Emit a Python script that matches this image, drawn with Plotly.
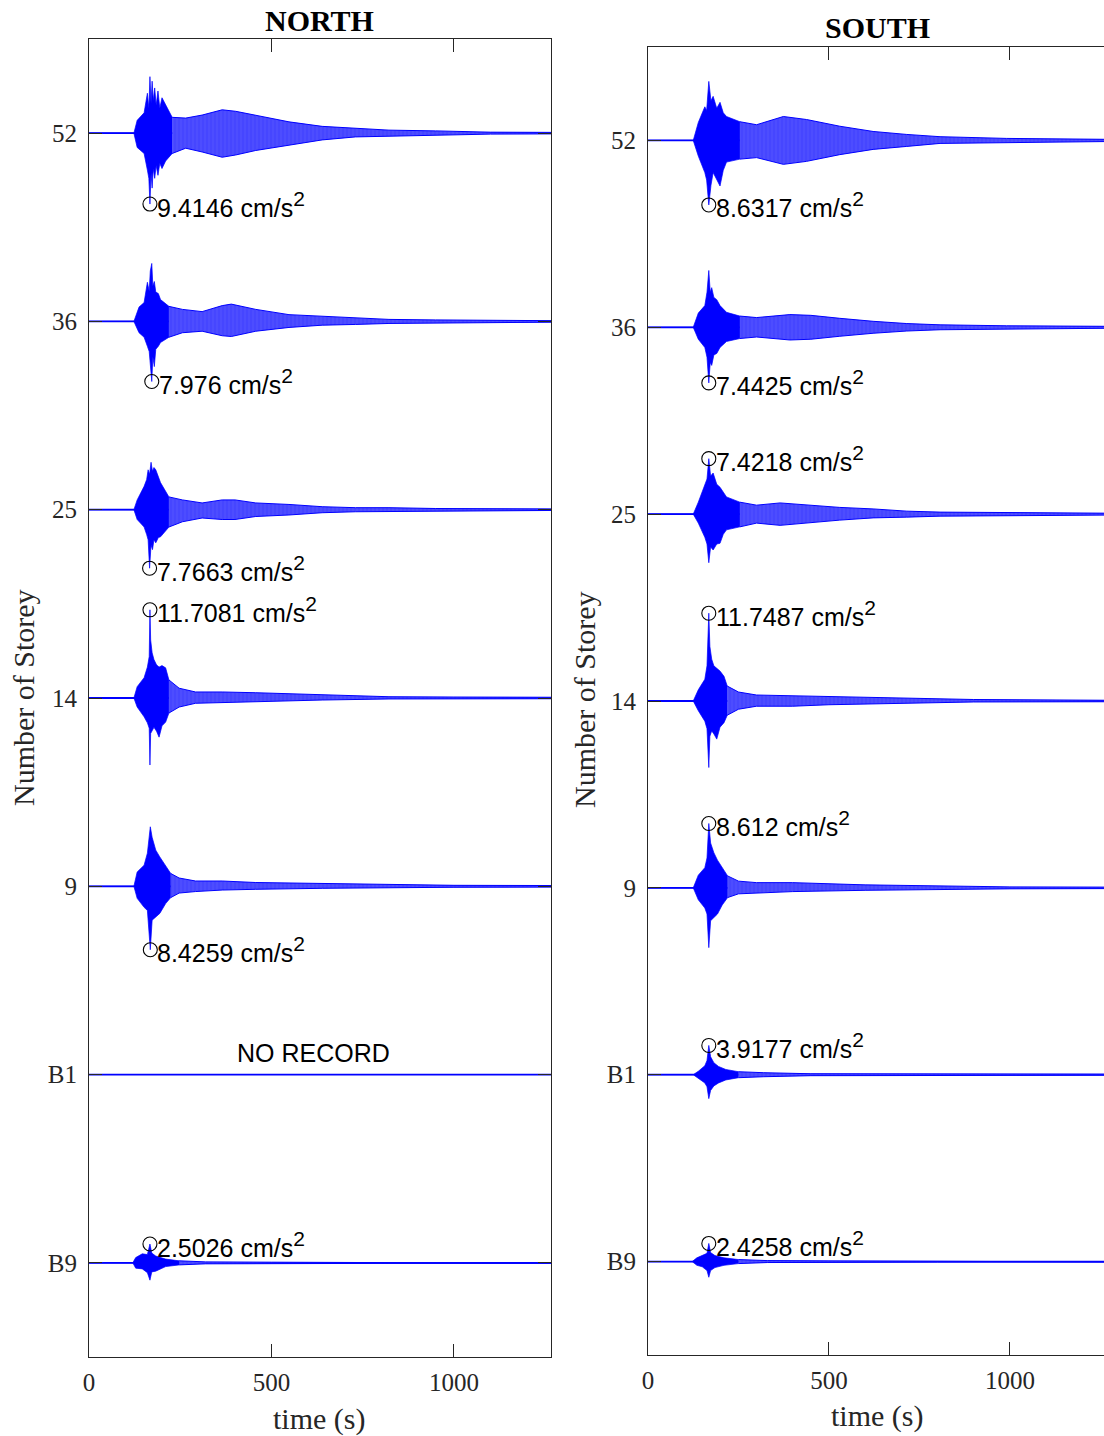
import plotly.graph_objects as go

# ---------------- data ----------------
storey_labels = ["B9", "B1", "9", "14", "25", "36", "52"]
storey_pos = [1, 2, 3, 4, 5, 6, 7]
ACC_PER_SLOT = 25.0          # cm/s^2 per storey slot
RECORD_END = 1266            # s
CODA_START = 219             # s, where the dense strong-motion part ends

# envelope of each record: time (s), upper amplitude, lower amplitude (cm/s^2)
# ---- NORTH ----
n52_t = [0, 123, 132, 151, 160, 164, 167, 170, 173, 176, 180, 184, 189, 194, 200, 210, 228, 265, 310, 365, 402, 457, 548, 639, 730, 822, 950, 1100, 1266]
n52_up = [0, 0, 1.7, 2.7, 5.3, 3.3, 7.5, 4.0, 6.9, 4.3, 6.0, 3.7, 5.6, 3.3, 4.7, 3.7, 2.1, 2.0, 2.4, 3.1, 2.9, 2.4, 1.5, 0.9, 0.7, 0.4, 0.3, 0.13, 0.1]
n52_lo = [0, 0, 1.9, 2.7, 4.9, 6.0, 9.4146, 5.3, 7.3, 4.7, 6.0, 4.3, 5.6, 4.0, 4.7, 3.7, 2.7, 2.0, 2.5, 3.2, 2.9, 2.3, 1.6, 0.9, 0.5, 0.4, 0.3, 0.13, 0.1]

n36_t = [0, 123, 137, 151, 160, 165, 168, 172, 175, 179, 183, 190, 196, 219, 256, 310, 365, 390, 457, 548, 639, 730, 822, 950, 1100, 1266]
n36_up = [0, 0, 1.9, 2.5, 5.2, 4.0, 6.7, 7.7, 4.7, 5.3, 3.9, 3.7, 2.9, 2.0, 1.6, 1.3, 2.1, 2.3, 1.6, 0.9, 0.7, 0.4, 0.27, 0.2, 0.13, 0.1]
n36_lo = [0, 0, 1.5, 2.1, 3.3, 4.0, 5.3, 7.976, 4.7, 6.0, 3.7, 3.3, 2.8, 2.1, 1.5, 1.3, 1.9, 2.0, 1.3, 0.8, 0.5, 0.4, 0.27, 0.2, 0.13, 0.1]

n25_t = [0, 123, 132, 151, 158, 162, 166, 170, 174, 178, 183, 190, 196, 219, 256, 310, 365, 400, 457, 548, 639, 730, 822, 950, 1100, 1266]
n25_up = [0, 0, 1.3, 3.1, 4.0, 5.3, 4.7, 6.3, 5.1, 5.6, 5.3, 4.4, 3.6, 1.7, 1.3, 0.9, 1.3, 1.3, 0.9, 0.7, 0.4, 0.27, 0.27, 0.16, 0.13, 0.1]
n25_lo = [0, 0, 1.3, 2.3, 3.3, 4.0, 7.7663, 4.7, 5.3, 4.0, 4.4, 3.7, 3.6, 2.3, 1.6, 1.1, 1.3, 1.3, 0.9, 0.7, 0.4, 0.27, 0.2, 0.16, 0.13, 0.1]

n14_t = [0, 123, 132, 151, 160, 165, 167, 169, 173, 178, 185, 192, 200, 210, 219, 247, 292, 365, 457, 639, 822, 1000, 1266]
n14_up = [0, 0, 1.5, 2.7, 4.1, 5.5, 11.7081, 7.7, 6.0, 5.1, 4.4, 4.1, 4.3, 4.0, 2.4, 1.3, 0.8, 0.8, 0.7, 0.4, 0.17, 0.13, 0.1]
n14_lo = [0, 0, 1.2, 2.5, 3.3, 4.0, 8.9, 4.7, 4.3, 3.9, 4.4, 5.2, 3.7, 3.2, 2.0, 1.2, 0.7, 0.7, 0.5, 0.27, 0.13, 0.13, 0.1]

n9_t = [0, 123, 132, 151, 160, 168, 173, 183, 194, 210, 224, 247, 292, 365, 457, 639, 822, 1000, 1266]
n9_up = [0, 0, 1.9, 2.8, 4.4, 7.9, 6.5, 4.8, 3.9, 2.8, 1.7, 1.1, 0.7, 0.7, 0.5, 0.4, 0.27, 0.13, 0.1]
n9_lo = [0, 0, 1.6, 2.8, 3.2, 8.4259, 4.5, 4.1, 3.6, 2.3, 1.5, 0.9, 0.7, 0.5, 0.4, 0.27, 0.17, 0.13, 0.1]

nb9_t = [0, 120, 128, 146, 160, 167, 172, 183, 210, 247, 320, 500, 800, 1266]
nb9_up = [0, 0, 0.7, 1.2, 1.1, 2.5026, 1.3, 0.9, 0.5, 0.27, 0.13, 0.09, 0.07, 0.05]
nb9_lo = [0, 0, 0.7, 0.8, 1.3, 2.3, 1.2, 1.1, 0.5, 0.27, 0.13, 0.09, 0.07, 0.05]

# ---- SOUTH ----
s52_t = [0, 125, 139, 157, 162, 168, 174, 180, 190, 199, 208, 217, 254, 300, 374, 438, 530, 622, 715, 807, 991, 1175, 1266]
s52_up = [0, 0, 2.4, 4.5, 4.0, 7.9, 5.3, 5.9, 4.3, 5.1, 3.7, 3.2, 2.5, 2.1, 3.2, 2.8, 1.9, 1.2, 0.8, 0.5, 0.27, 0.2, 0.15]
s52_lo = [0, 0, 2.1, 4.3, 5.3, 8.6317, 6.0, 4.3, 5.3, 6.1, 4.0, 2.9, 2.5, 2.3, 3.2, 2.8, 1.9, 1.2, 0.8, 0.4, 0.27, 0.2, 0.15]

s36_t = [0, 125, 139, 157, 163, 168, 172, 176, 182, 190, 199, 217, 254, 300, 392, 450, 530, 622, 715, 807, 991, 1266]
s36_up = [0, 0, 1.9, 2.9, 4.7, 7.6, 4.7, 5.3, 4.0, 3.7, 2.9, 2.0, 1.5, 1.3, 1.7, 1.6, 1.2, 0.8, 0.5, 0.33, 0.2, 0.13]
s36_lo = [0, 0, 1.6, 2.7, 4.0, 7.4425, 4.7, 5.1, 3.7, 3.5, 2.7, 1.9, 1.5, 1.3, 1.7, 1.6, 1.2, 0.8, 0.5, 0.33, 0.2, 0.13]

s25_t = [0, 125, 139, 157, 163, 168, 173, 180, 190, 199, 208, 217, 254, 300, 365, 438, 530, 622, 715, 807, 991, 1266]
s25_up = [0, 0, 1.6, 4.1, 4.7, 7.4218, 5.1, 5.5, 4.0, 3.6, 2.9, 2.3, 1.6, 1.2, 1.5, 1.2, 0.9, 0.7, 0.4, 0.27, 0.2, 0.13]
s25_lo = [0, 0, 1.2, 3.1, 4.0, 6.5, 4.4, 4.8, 4.0, 3.9, 2.7, 2.1, 1.7, 1.2, 1.5, 1.2, 0.8, 0.5, 0.4, 0.27, 0.2, 0.13]

s14_t = [0, 125, 139, 157, 163, 168, 171, 176, 182, 190, 199, 210, 219, 250, 300, 400, 500, 700, 900, 1266]
s14_up = [0, 0, 1.5, 2.9, 4.7, 11.7487, 7.3, 5.6, 4.7, 4.4, 4.0, 3.3, 2.0, 1.2, 0.8, 0.7, 0.5, 0.4, 0.2, 0.1]
s14_lo = [0, 0, 1.3, 2.7, 3.7, 8.9, 4.7, 4.0, 4.4, 5.1, 3.5, 2.9, 1.9, 1.1, 0.7, 0.7, 0.5, 0.27, 0.13, 0.1]

s9_t = [0, 125, 139, 157, 163, 168, 173, 182, 192, 205, 220, 250, 300, 400, 600, 800, 1000, 1266]
s9_up = [0, 0, 1.7, 2.7, 4.0, 8.612, 6.0, 4.7, 3.7, 2.7, 1.6, 0.9, 0.7, 0.7, 0.4, 0.27, 0.13, 0.1]
s9_lo = [0, 0, 1.6, 2.7, 3.5, 8.0, 4.4, 4.0, 3.5, 2.3, 1.3, 0.8, 0.7, 0.5, 0.33, 0.2, 0.13, 0.1]

sb1_t = [0, 125, 140, 157, 163, 168, 173, 182, 195, 215, 250, 320, 450, 700, 1266]
sb1_up = [0, 0, 0.5, 1.2, 1.9, 3.9177, 2.4, 1.6, 1.1, 0.7, 0.4, 0.27, 0.13, 0.09, 0.07]
sb1_lo = [0, 0, 0.5, 1.1, 1.6, 3.2, 2.1, 1.5, 1.1, 0.7, 0.4, 0.27, 0.13, 0.09, 0.07]

sb9_t = [0, 122, 135, 150, 163, 168, 173, 185, 210, 250, 330, 500, 800, 1266]
sb9_up = [0, 0, 0.5, 0.8, 1.1, 2.4258, 1.2, 0.8, 0.5, 0.27, 0.13, 0.09, 0.07, 0.05]
sb9_lo = [0, 0, 0.5, 0.7, 1.2, 2.1, 1.2, 0.8, 0.5, 0.27, 0.13, 0.09, 0.07, 0.05]

# peak annotations
north_peak_storey = ["52", "36", "25", "14", "9", "B9"]
north_peak_time = [167, 172, 166, 167, 168, 167]
north_peak_value = [9.4146, 7.976, 7.7663, 11.7081, 8.4259, 2.5026]
north_peak_dir = [-1, -1, -1, 1, -1, 1]

south_peak_storey = ["52", "36", "25", "14", "9", "B1", "B9"]
south_peak_time = [168, 168, 168, 168, 168, 168, 168]
south_peak_value = [8.6317, 7.4425, 7.4218, 11.7487, 8.612, 3.9177, 2.4258]
south_peak_dir = [-1, -1, 1, 1, 1, 1, 1]

north_records = {"52": (n52_t, n52_up, n52_lo), "36": (n36_t, n36_up, n36_lo),
                 "25": (n25_t, n25_up, n25_lo), "14": (n14_t, n14_up, n14_lo),
                 "9": (n9_t, n9_up, n9_lo), "B9": (nb9_t, nb9_up, nb9_lo)}
south_records = {"52": (s52_t, s52_up, s52_lo), "36": (s36_t, s36_up, s36_lo),
                 "25": (s25_t, s25_up, s25_lo), "14": (s14_t, s14_up, s14_lo),
                 "9": (s9_t, s9_up, s9_lo), "B1": (sb1_t, sb1_up, sb1_lo),
                 "B9": (sb9_t, sb9_up, sb9_lo)}

# ---------------- figure ----------------
W, H = 1104, 1436
BLUE = "#0000ff"
AXC = "#262626"
SERIF = "Liberation Serif, Times New Roman, serif"
SANS = "Liberation Sans, Arial, sans-serif"
pos_of = dict(zip(storey_labels, storey_pos))

fig = go.Figure()


def polygon(t, up, lo, p):
    xs = list(t) + list(t[::-1])
    ys = [p + u / ACC_PER_SLOT for u in up] + [p - v / ACC_PER_SLOT for v in lo[::-1]]
    return xs, ys


def add_panel(records, xa, ya):
    for lab, p in zip(storey_labels, storey_pos):
        fig.add_trace(go.Scatter(x=[0, RECORD_END], y=[p, p], mode="lines",
                                 line=dict(color=BLUE, width=1.8), xaxis=xa, yaxis=ya,
                                 hoverinfo="skip", showlegend=False))
        if lab in records:
            t, up, lo = records[lab]
            k = next(i for i, tt in enumerate(t) if tt >= CODA_START)
            # dense strong-motion part
            xs, ys = polygon(t[:k + 1], up[:k + 1], lo[:k + 1], p)
            fig.add_trace(go.Scatter(x=xs, y=ys, mode="lines", fill="toself",
                                     fillcolor=BLUE, line=dict(color=BLUE, width=0.7),
                                     xaxis=xa, yaxis=ya, hoverinfo="skip", showlegend=False))
            # coda: oscillation drawn as dense vertical hatch
            xs, ys = polygon(t[k:], up[k:], lo[k:], p)
            fig.add_trace(go.Scatter(x=xs, y=ys, mode="lines", fill="toself",
                                     fillcolor="#8c8cff",
                                     fillpattern=dict(shape="|", fgcolor=BLUE, bgcolor="#8c8cff",
                                                      size=4, solidity=0.95),
                                     line=dict(color=BLUE, width=1.0),
                                     xaxis=xa, yaxis=ya, hoverinfo="skip", showlegend=False))


def add_peaks(storeys, times, values, dirs, xa, ya):
    ys = [pos_of[s] + d * v / ACC_PER_SLOT for s, v, d in zip(storeys, values, dirs)]
    fig.add_trace(go.Scatter(x=times, y=ys, mode="markers",
                             marker=dict(symbol="circle-open", size=14, color="black",
                                         line=dict(width=1.1, color="black")),
                             xaxis=xa, yaxis=ya, hoverinfo="skip", showlegend=False))
    for t, y, v in zip(times, ys, values):
        fig.add_annotation(x=t, y=y, xref=xa, yref=ya,
                           text=f"{v:g} cm/s<sup><span style='font-size:21px'>2</span></sup>",
                           showarrow=False, xanchor="left", yanchor="middle", xshift=5, yshift=0,
                           font=dict(family=SANS, size=25, color="black"))


add_panel(north_records, "x", "y")
add_panel(south_records, "x2", "y2")
add_peaks(north_peak_storey, north_peak_time, north_peak_value, north_peak_dir, "x", "y")
add_peaks(south_peak_storey, south_peak_time, south_peak_value, south_peak_dir, "x2", "y2")

fig.add_annotation(x=616, y=2.114, xref="x", yref="y", text="NO RECORD", showarrow=False,
                   xanchor="center", yanchor="middle", font=dict(family=SANS, size=25, color="black"))

axis_common = dict(showgrid=False, zeroline=False, showline=True, linecolor=AXC, linewidth=1,
                   ticks="inside", ticklen=13, tickwidth=1, tickcolor=AXC, automargin=False,
                   tickfont=dict(family=SERIF, size=25, color=AXC))

fig.update_layout(
    width=W, height=H, margin=dict(l=0, r=0, t=0, b=0, autoexpand=False),
    paper_bgcolor="white", plot_bgcolor="white", showlegend=False,
    xaxis=dict(domain=[89 / W, 551 / W], range=[0, 1266], anchor="y", mirror="ticks",
               tickvals=[0, 500, 1000], ticklabelstandoff=3, **axis_common),
    yaxis=dict(domain=[1 - 1357 / H, 1 - 39 / H], range=[0.5, 7.5], anchor="x", mirror="ticks",
               tickvals=storey_pos, ticktext=storey_labels, ticklabelstandoff=6, **axis_common),
    xaxis2=dict(domain=[648 / W, 1.0], range=[0, 1260], anchor="y2", mirror="ticks",
                tickvals=[0, 500, 1000], ticklabelstandoff=3, **axis_common),
    yaxis2=dict(domain=[1 - 1355 / H, 1 - 47 / H], range=[0.5, 7.5], anchor="x2", mirror=False,
                tickvals=storey_pos, ticktext=storey_labels, ticklabelstandoff=6, **axis_common),
)

# titles and axis labels
for txt, x, y in [("<b>NORTH</b>", 319, 20), ("<b>SOUTH</b>", 877, 27)]:
    fig.add_annotation(x=x / W, y=1 - y / H, xref="paper", yref="paper", text=txt, showarrow=False,
                       xanchor="center", yanchor="middle", font=dict(family=SERIF, size=30, color="black"))
for x, y in [(319, 1419), (877, 1416)]:
    fig.add_annotation(x=x / W, y=1 - y / H, xref="paper", yref="paper", text="time (s)", showarrow=False,
                       xanchor="center", yanchor="middle", font=dict(family=SERIF, size=30, color=AXC))
for x, y in [(23, 698), (584, 700)]:
    fig.add_annotation(x=x / W, y=1 - y / H, xref="paper", yref="paper", text="Number of Storey",
                       showarrow=False, textangle=-90, xanchor="center", yanchor="middle",
                       font=dict(family=SERIF, size=30, color=AXC))

fig.write_html("out.html")
